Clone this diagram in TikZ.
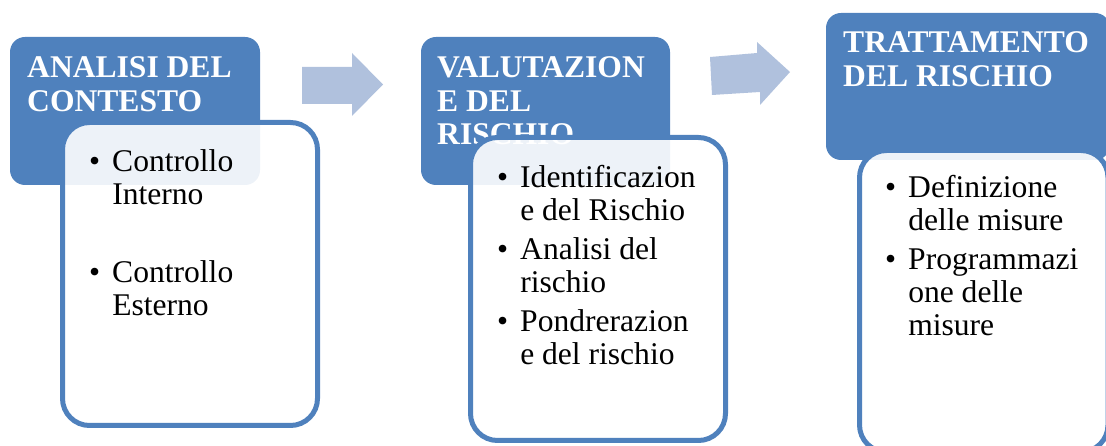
\documentclass[tikz,border=0pt]{standalone}
\usepackage{fontspec}
\setmainfont{Liberation Serif}
\usepackage{xcolor}

\definecolor{headblue}{HTML}{4F81BD}
\definecolor{arrowblue}{HTML}{B0C1DD}

\tikzset{
  header/.style={rectangle, rounded corners=15bp, fill=headblue, inner sep=0pt},
  panel/.style={rectangle, rounded corners=27bp, draw=headblue, line width=5bp,
    fill=white, fill opacity=0.9, inner sep=0pt},
  headtext/.style={anchor=base west, inner sep=0pt, text=white,
    font=\fontsize{31.7}{33.5}\selectfont\bfseries},
  itemtext/.style={anchor=base west, inner sep=0pt,
    font=\fontsize{31.7}{33}\selectfont},
  blockarrow/.style={fill=arrowblue},
}
\newcommand{\lines}[1]{\begin{tabular}[t]{@{}l@{}}#1\end{tabular}}
\newcommand{\bul}[1]{\textbullet\hspace{12bp}\lines{#1}}

\begin{document}
\begin{tikzpicture}[line join=bevel]
  \useasboundingbox (0bp,0bp) rectangle (1106bp,446bp);
  \clip (0bp,0bp) rectangle (1106bp,446bp);
%%
  % Arrow: a1
  \fill [blockarrow] (302bp,379bp) -- (352bp,379bp) -- (352bp,393bp) -- (383bp,361.5bp)
    -- (352bp,330bp) -- (352bp,342bp) -- (302bp,342bp) -- cycle;
  % Arrow: a2
  \fill [blockarrow] (710bp,389bp) -- (757bp,393bp) -- (757bp,404bp) -- (790bp,374bp)
    -- (760bp,341bp) -- (760bp,354bp) -- (712bp,351bp) -- cycle;
  % Node: analisi
\begin{scope}
  \node [header, minimum width=250bp, minimum height=148bp] (analisi) at (135bp,335bp) {};
  \node [headtext] (analisitext) at (27bp,368bp) {\lines{ANALISI DEL\\CONTESTO}};
  \node [panel, minimum width=255bp, minimum height=303bp] (contesto) at (190bp,172bp) {};
  \node [itemtext] (interno) at (89bp,274bp) {\bul{Controllo\\Interno}};
  \node [itemtext] (esterno) at (89bp,163bp) {\bul{Controllo\\Esterno}};
\end{scope}
  % Node: valutazione
\begin{scope}
  \node [header, minimum width=249bp, minimum height=148bp] (valutazione) at (545.5bp,335bp) {};
  \node [headtext] (valutazionetext) at (437bp,368bp) {\lines{VALUTAZION\\E DEL\\RISCHIO}};
  \node [panel, minimum width=255bp, minimum height=303bp] (rischio) at (598bp,157bp) {};
  \node [itemtext] (identificazione) at (497bp,258bp) {\bul{Identificazion\\e del Rischio}};
  \node [itemtext] (analisirischio) at (497bp,186bp) {\bul{Analisi del\\rischio}};
  \node [itemtext] (ponderazione) at (497bp,114bp) {\bul{Pondrerazion\\e del rischio}};
\end{scope}
  % Node: trattamento
\begin{scope}
  \node [header, minimum width=284bp, minimum height=147bp] (trattamento) at (968bp,359.5bp) {};
  \node [headtext] (trattamentotext) at (843bp,393bp) {\lines{TRATTAMENTO\\DEL RISCHIO}};
  \node [panel, minimum width=248.5bp, minimum height=301.5bp] (misure) at (983.75bp,144.75bp) {};
  \node [itemtext] (definizione) at (885bp,248bp) {\bul{Definizione\\delle misure}};
  \node [itemtext] (programmazione) at (885bp,176bp) {\bul{Programmazi\\one delle\\misure}};
\end{scope}
%
\end{tikzpicture}
\end{document}
